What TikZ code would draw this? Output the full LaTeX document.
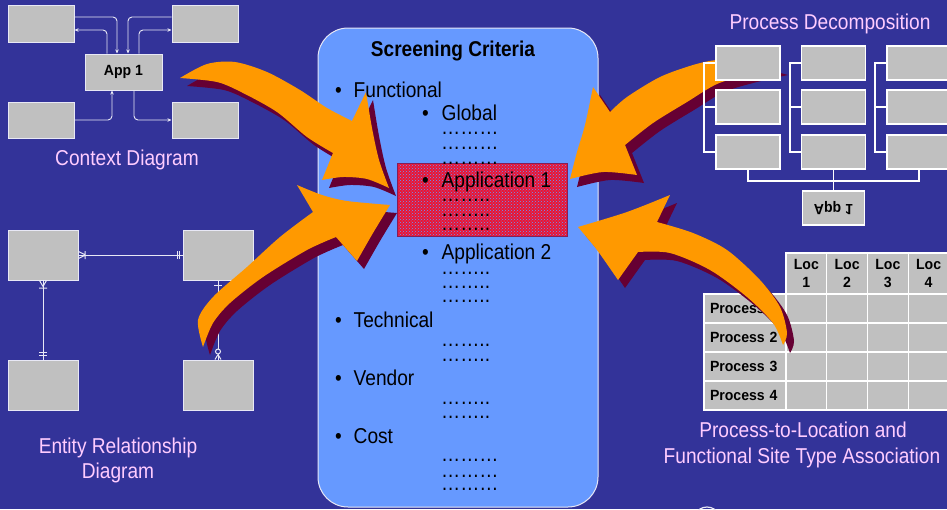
\documentclass[tikz,border=0pt]{standalone}
\usepackage{fontspec}
\setmainfont{Liberation Sans}
\newfontfamily\nfont[FakeStretch=0.89]{Liberation Sans}
\newfontfamily\tfont[FakeStretch=0.95]{Liberation Sans}
\usetikzlibrary{arrows.meta,patterns,calc}

\definecolor{bgblue}{RGB}{51,51,153}
\definecolor{panelblue}{RGB}{102,153,255}
\definecolor{boxgray}{RGB}{192,192,192}
\definecolor{pinktext}{RGB}{255,204,255}
\definecolor{orangec}{RGB}{255,153,0}
\definecolor{maroonc}{RGB}{102,0,51}
\definecolor{linec}{RGB}{232,232,245}
\definecolor{redfill}{RGB}{235,20,50}
\definecolor{redborder}{RGB}{130,30,90}

\newcommand\swoosh[1]{\fill[maroonc,shift={(7,8)}] #1; \fill[orangec] #1;}

\begin{document}
\begin{tikzpicture}[x=1pt,y=-1pt,
  bigtext/.style={font=\nfont\fontsize{21.5}{25}\selectfont},
  pinklabel/.style={bigtext,text=pinktext,inner sep=0pt},
  listtext/.style={bigtext,text=black,inner sep=0pt,anchor=base west},
  smallbold/.style={font=\tfont\bfseries\fontsize{14.8}{17.5}\selectfont,text=black},
  gbox/.style={draw=linec,line width=1pt,fill=boxgray,inner sep=0pt},
  pbox/.style={draw=white,line width=1.6pt,fill=boxgray,inner sep=0pt,minimum width=64pt,minimum height=34pt},
  cline/.style={draw=linec,line width=0.9pt,rounded corners=4pt,-{Stealth[length=4pt,width=3.5pt]}},
  erline/.style={draw=linec,line width=1pt},
  tline/.style={draw=white,line width=1.6pt},
  cell/.style={draw=white,line width=1.2pt,fill=boxgray,inner sep=0pt,smallbold},
]
\useasboundingbox (0,0) rectangle (947,509);
\clip (0,0) rectangle (947,509);
\fill[bgblue] (0,0) rectangle (947,509);

% ---------- Context diagram ----------
\node[gbox,minimum width=66pt,minimum height=37pt] (TL) at (41,23.5) {};
\node[gbox,minimum width=66pt,minimum height=37pt] (TR) at (205,23.5) {};
\node[gbox,minimum width=77pt,minimum height=36pt,smallbold] (App) at (123.5,72) {App 1};
\node[gbox,minimum width=66pt,minimum height=36pt] (BL) at (41,120) {};
\node[gbox,minimum width=66pt,minimum height=36pt] (BR) at (205,120) {};
\draw[cline] ([yshift=6.5pt]TL.east) -| ([xshift=-6.5pt]App.north);
\draw[cline] ([xshift=-16.5pt]App.north) |- ([yshift=-6.5pt]TL.east);
\draw[cline] ([yshift=6.5pt]TR.west) -| ([xshift=4.5pt]App.north);
\draw[cline] ([xshift=15.5pt]App.north) |- ([yshift=-6.5pt]TR.west);
\draw[cline] (BL.east) -| ([xshift=-11.5pt]App.south);
\draw[cline] ([xshift=10.5pt]App.south) |- (BR.west);
\node[pinklabel,anchor=base] (ctxlabel) at (127,165) {Context Diagram};

% ---------- Entity relationship diagram ----------
\node[gbox,minimum width=70pt,minimum height=50pt] (A) at (43,255) {};
\node[gbox,minimum width=70pt,minimum height=50pt] (B) at (218,255) {};
\node[gbox,minimum width=70pt,minimum height=50pt] (C) at (43,385) {};
\node[gbox,minimum width=70pt,minimum height=50pt] (D) at (218,385) {};
\draw[erline] (A.east) -- (B.west);
\draw[erline] (A.south) -- (C.north);
\draw[erline] (B.south) -- (D.north);
\draw[erline] ($(A.east)+(7,0)$) -- ($(A.east)+(0,-3.5)$) ($(A.east)+(7,0)$) -- ($(A.east)+(0,3.5)$)
  ($(A.east)+(6.5,-4)$) -- ($(A.east)+(6.5,4)$);
\draw[erline] ($(B.west)+(-3,-4)$) -- ($(B.west)+(-3,4)$) ($(B.west)+(-5.5,-4)$) -- ($(B.west)+(-5.5,4)$);
\draw[erline] ($(A.south)+(0,6)$) -- ($(A.south)+(-3.5,0)$) ($(A.south)+(0,6)$) -- ($(A.south)+(3.5,0)$)
  ($(A.south)+(-4,7.5)$) -- ($(A.south)+(4,7.5)$);
\draw[erline] ($(C.north)+(-4,-4)$) -- ($(C.north)+(4,-4)$) ($(C.north)+(-4,-7)$) -- ($(C.north)+(4,-7)$);
\draw[erline] ($(B.south)+(-4,5)$) -- ($(B.south)+(4,5)$);
\draw[erline] ($(D.north)+(0,-5)$) -- ($(D.north)+(-3,0)$) ($(D.north)+(0,-5)$) -- ($(D.north)+(3,0)$);
\draw[erline,fill=bgblue] ($(D.north)+(0,-8)$) circle[radius=2.5pt];
\node[pinklabel,anchor=base] (erl1) at (118,453) {Entity Relationship};
\node[pinklabel,anchor=base] (erl2) at (118,478) {Diagram};

% ---------- central panel ----------
\node[draw=linec,line width=1pt,fill=panelblue,rounded corners=30pt,minimum width=280pt,minimum height=479pt,inner sep=0pt] (panel) at (458,267.5) {};
\node[fill=redfill,minimum width=169pt,minimum height=72pt,inner sep=0pt,
  postaction={pattern=crosshatch dots,pattern color=panelblue}] (redbox) at (482.5,200) {};
\draw[redborder,line width=1pt] (redbox.south west) rectangle (redbox.north east);

% arrows into the panel (left side)
\swoosh{plot[smooth] coordinates {(180,78) (207,64) (235,62) (267,72) (300,90) (327,108) (352,121)}
  -- (366,92)
  -- plot[smooth] coordinates {(366,92) (372,128) (379,160) (389,188)}
  -- plot[smooth] coordinates {(389,188) (367,179) (343,177) (322,180)}
  -- (333,153)
  -- plot[smooth] coordinates {(333,153) (307,137) (277,112) (243,93) (217,82) (180,78)}
  -- cycle}
\swoosh{plot[smooth] coordinates {(203,347) (198,320) (213,297) (247,267) (280,237) (313,212)}
  -- (297,185)
  -- plot[smooth] coordinates {(297,185) (322,195) (347,201) (390,205)}
  -- plot[smooth] coordinates {(390,205) (373,233) (357,261)}
  -- (336,237)
  -- plot[smooth] coordinates {(336,237) (307,250) (263,277) (230,303) (213,323) (203,347)}
  -- cycle}

\node[anchor=base,font=\nfont\bfseries\fontsize{21.4}{25}\selectfont,inner sep=0pt] (title) at (453,56) {Screening Criteria};

\node[listtext] (bF) at (335,97) {•};
\node[listtext] (tF) at (353.5,97) {Functional};
\node[listtext] (bG) at (422,120) {•};
\node[listtext] (tG) at (441.5,120) {Global};
\node[listtext] (dG1) at (441,134) {………};
\node[listtext] (dG2) at (441,149) {………};
\node[listtext] (dG3) at (441,164) {………};
\node[listtext] (bA1) at (422,187) {•};
\node[listtext] (tA1) at (441.5,187) {Application 1};
\node[listtext] (dA11) at (441,201) {……..};
\node[listtext] (dA12) at (441,216) {……..};
\node[listtext] (dA13) at (441,230) {……..};
\node[listtext] (bA2) at (422,259) {•};
\node[listtext] (tA2) at (441.5,259) {Application 2};
\node[listtext] (dA21) at (441,274) {……..};
\node[listtext] (dA22) at (441,288) {……..};
\node[listtext] (dA23) at (441,302) {……..};
\node[listtext] (bT) at (335,327) {•};
\node[listtext] (tT) at (353.5,327) {Technical};
\node[listtext] (dT1) at (441,346) {……..};
\node[listtext] (dT2) at (441,361) {……..};
\node[listtext] (bV) at (335,385) {•};
\node[listtext] (tV) at (353.5,385) {Vendor};
\node[listtext] (dV1) at (441,404) {……..};
\node[listtext] (dV2) at (441,418) {……..};
\node[listtext] (bC) at (335,443) {•};
\node[listtext] (tC) at (353.5,443) {Cost};
\node[listtext] (dC1) at (441,461) {………};
\node[listtext] (dC2) at (441,477) {………};
\node[listtext] (dC3) at (441,490) {………};

% ---------- Process decomposition ----------
\swoosh{plot[smooth] coordinates {(781,67) (750,60) (717,60) (693,65) (660,77) (627,97) (610,112)}
  -- (593,87)
  -- plot[smooth] coordinates {(593,87) (585,125) (577,152) (570,179)}
  -- plot[smooth] coordinates {(570,179) (603,172) (637,175)}
  -- (625,145)
  -- plot[smooth] coordinates {(625,145) (653,123) (687,102) (717,84) (750,74) (781,67)}
  -- cycle}
\foreach \c/\cx in {1/748,2/833.5,3/919}
  \foreach \r/\ry in {1/63,2/107,3/152}
    \node[pbox] (p\c\r) at (\cx,\ry) {};
\foreach \c in {1,2,3} {
  \draw[tline] (p\c1.west) -- ++(-11,0) |- (p\c3.west);
  \draw[tline] (p\c2.west) -- ++(-11,0);
}
\node[pbox,minimum width=62pt] (app2) at (833.5,208) {};
\draw[tline] (p13.south) -- ++(0,11) -| (p33.south);
\draw[tline] (p23.south) -- (app2.north);
\node[smallbold,yscale=-1,transform shape,inner sep=0pt] (app2t) at (app2.center) {App 1};
\node[pinklabel,anchor=base] (pdlabel) at (830,29) {Process Decomposition};

% ---------- Process-to-location table ----------
\foreach \i in {1,...,4} {
  \node[cell,minimum width=40.75pt,minimum height=41pt,align=center] (h\i) at ({786+40.75*(\i-0.5)},273.5) {Loc\\\i};
  \node[cell,minimum width=82pt,minimum height=29pt,text width=70pt,align=left] (r\i) at (745,{294+29*(\i-0.5)}) {Process \i};
  \foreach \j in {1,...,4}
    \node[cell,minimum width=40.75pt,minimum height=29pt] (c\i\j) at ({786+40.75*(\j-0.5)},{294+29*(\i-0.5)}) {};
}
\swoosh{plot[smooth] coordinates {(578,227) (627,212) (670,195)}
  -- (657,222)
  -- plot[smooth] coordinates {(657,222) (693,233) (727,250) (760,280) (780,307) (787,333) (783,345)}
  -- plot[smooth] coordinates {(783,345) (773,323) (747,297) (710,270) (670,253) (638,252)}
  -- (618,280)
  -- plot[smooth] coordinates {(618,280) (597,250) (578,227)}
  -- cycle}
\node[pinklabel,anchor=base] (tl1) at (803,437) {Process-to-Location and};
\node[pinklabel,anchor=base] (tl2) at (802,463) {Functional Site Type Association};

% partial logo at the bottom edge
\draw[linec,line width=1.2pt] (707,514) ellipse [x radius=10pt,y radius=7pt];
\end{tikzpicture}
\end{document}
